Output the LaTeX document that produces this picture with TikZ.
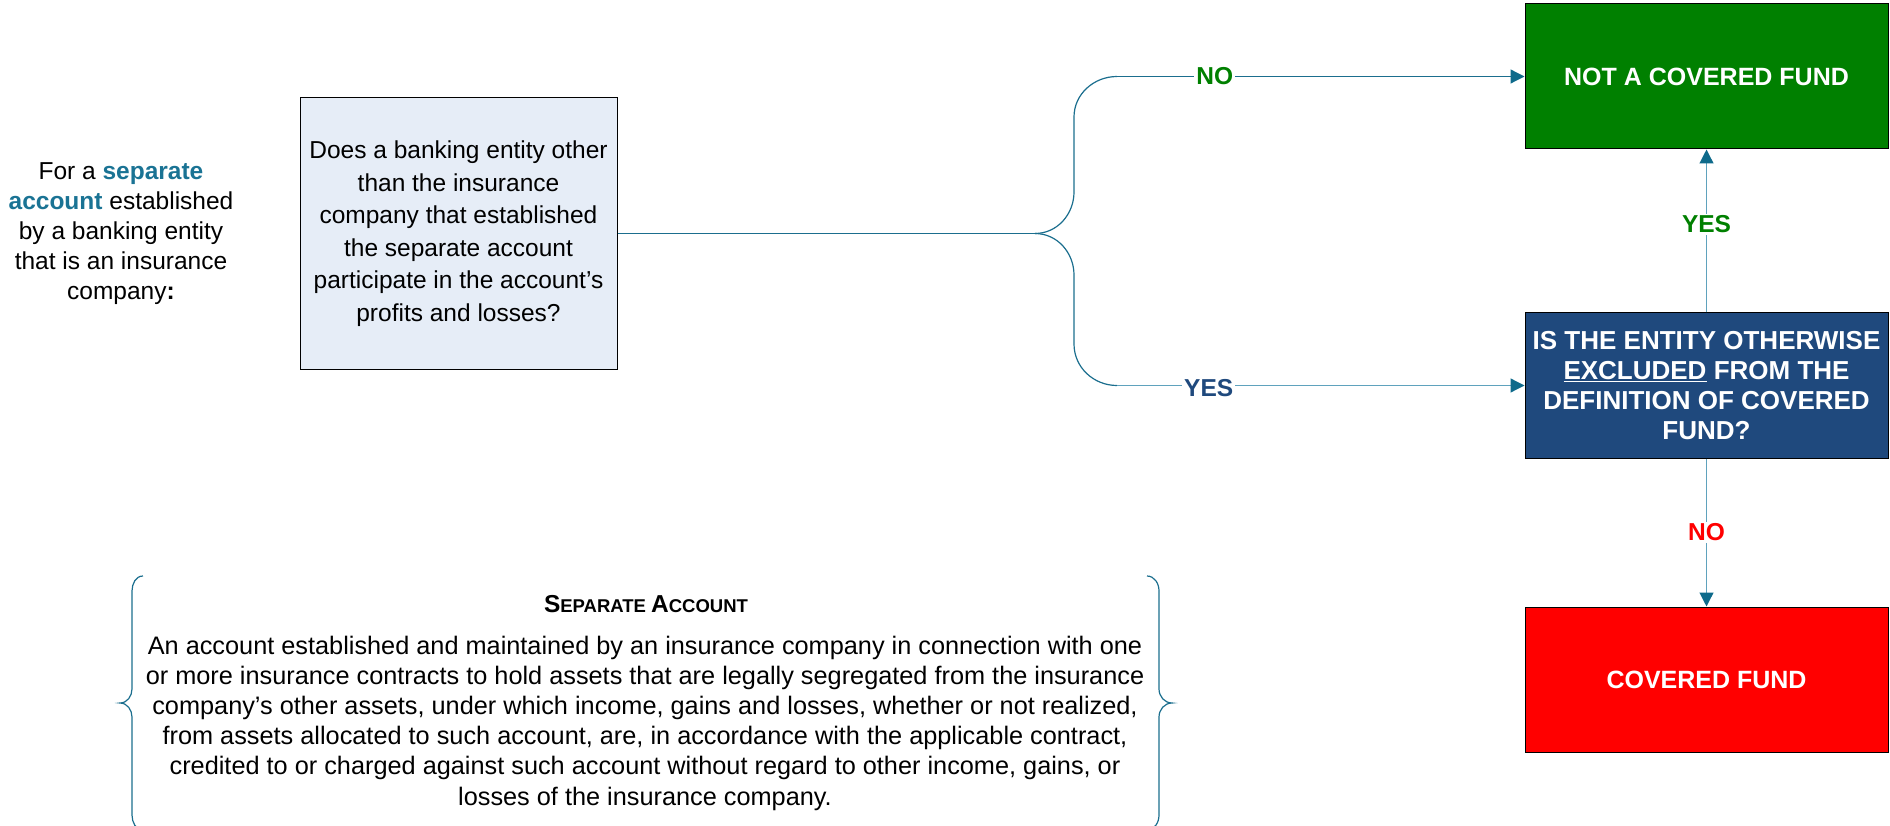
\documentclass[tikz,border=0pt]{standalone}
\usepackage{fontspec}
\setmainfont{Liberation Sans}
\usetikzlibrary{arrows.meta}
\definecolor{lineteal}{HTML}{1B6E8E}
\definecolor{lightteal}{HTML}{5FA2BD}
\definecolor{arrowteal}{HTML}{0E6A8B}
\definecolor{okgreen}{HTML}{008000}
\definecolor{navy}{HTML}{1F497D}
\definecolor{alarmred}{HTML}{FF0000}
\definecolor{qfill}{HTML}{E6EDF7}
\definecolor{accent}{HTML}{1A7394}
\tikzset{
  conn/.style={draw=lineteal, line width=1.2pt},
  tipped/.style={-{Triangle[length=14pt,width=14pt,fill=arrowteal,color=arrowteal]}},
  lbl/.style={fill=white, inner sep=2pt, font=\fontsize{24.5}{30}\selectfont\bfseries},
  outcome/.style={rectangle, draw=black, line width=1pt, minimum width=363pt, minimum height=145pt,
     text=white, align=center, font=\fontsize{25}{30}\selectfont\bfseries},
  bracestyle/.style={draw=lineteal, line width=1.2pt},
  plain/.style={align=center, font=\fontsize{24.5}{30}\selectfont}
}
\begin{document}
\begin{tikzpicture}[x=1pt,y=-1pt]
\useasboundingbox (0,0) rectangle (1890,826);

% left intro text
\node[plain] (intro) at (121,234) {For a \textbf{\color{accent}separate}\\\textbf{\color{accent}account} established\\by a banking entity\\that is an insurance\\company\textbf{:}};

% question box
\node[rectangle, draw=black, line width=1pt, fill=qfill, minimum width=317pt, minimum height=271pt,
      align=center, font=\fontsize{24.5}{32.5}\selectfont] (q) at (458.5,233.5)
 {Does a banking entity other\\than the insurance\\company that established\\the separate account\\participate in the account’s\\profits and losses?};

% outcome boxes
\node[outcome, fill=okgreen] (nc) at (1706.5,76.5) {NOT A COVERED FUND};
\node[outcome, fill=navy, font=\fontsize{26}{30}\selectfont\bfseries] (ex) at (1706.5,385.5) {IS THE ENTITY OTHERWISE\\\underline{EXCLUDED} FROM THE\\DEFINITION OF COVERED\\FUND?};
\node[outcome, fill=alarmred] (cf) at (1706.5,679.5) {COVERED FUND};

% branching connector
\coordinate (j) at (1035,233.5);
\coordinate (ua) at (1074,192);
\coordinate (ub) at (1074,117);
\coordinate (uc) at (1117,76.5);
\coordinate (da) at (1074,275);
\coordinate (db) at (1074,344);
\coordinate (dc) at (1117,385.5);

\draw[conn] (q.east) -- (j);
\draw[conn] (j) to[out=0,in=-90] (ua) -- (ub) to[out=90,in=180] (uc);
\draw[conn, tipped] (uc) -- node[lbl, text=okgreen, pos=0.24] (nolbl) {NO} (nc.west);
\draw[conn] (j) to[out=0,in=90] (da) -- (db) to[out=-90,in=180] (dc);
\draw[conn, draw=lightteal, tipped] (dc) -- node[lbl, text=navy, pos=0.225, yshift=-3pt] (yeslbl) {YES} (ex.west);

% vertical connectors
\draw[conn, draw=lightteal, tipped] (ex.north) -- node[lbl, text=okgreen, pos=0.54] (yes2) {YES} (nc.south);
\draw[conn, draw=lightteal, tipped] (ex.south) -- node[lbl, text=alarmred, pos=0.5] (no2) {NO} (cf.north);

% definition braces
\draw[bracestyle] (143,576) to[out=180,in=90] (132,591) -- (132,689) to[out=-90,in=0] (120,703)
   to[out=0,in=90] (132,717) -- (132,815) to[out=-90,in=180] (143,830);
\draw[bracestyle] (1147,576) to[out=0,in=90] (1159,591) -- (1159,689) to[out=-90,in=180] (1172,703)
   to[out=180,in=90] (1159,717) -- (1159,815) to[out=-90,in=0] (1147,830);

\node[font=\bfseries] (deftitle) at (646,604)
 {{\fontsize{24.5}{30}\selectfont S}{\fontsize{18.5}{30}\selectfont EPARATE }{\fontsize{24.5}{30}\selectfont A}{\fontsize{18.5}{30}\selectfont CCOUNT}};
\node[align=center, font=\fontsize{25.3}{30.2}\selectfont] (defbody) at (645,723)
 {An account established and maintained by an insurance company in connection with one\\
  or more insurance contracts to hold assets that are legally segregated from the insurance\\
  company’s other assets, under which income, gains and losses, whether or not realized,\\
  from assets allocated to such account, are, in accordance with the applicable contract,\\
  credited to or charged against such account without regard to other income, gains, or\\
  losses of the insurance company.};
\end{tikzpicture}
\end{document}
